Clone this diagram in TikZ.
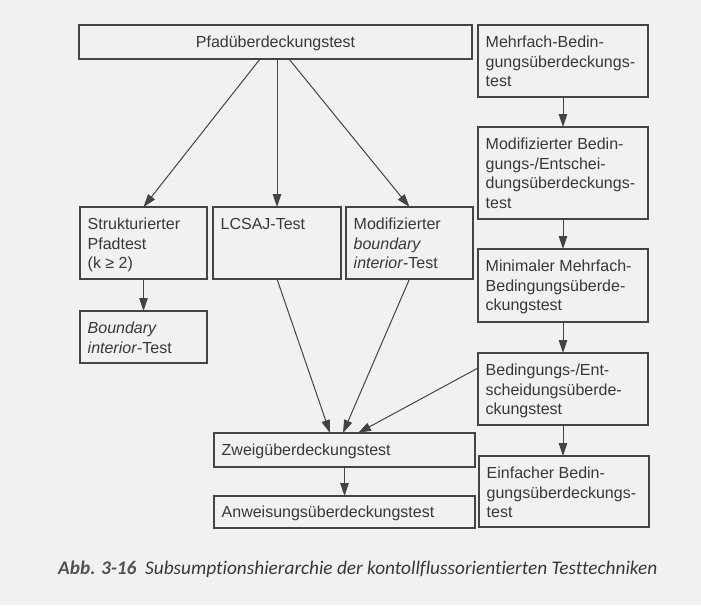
\documentclass[tikz,border=0pt]{standalone}
\usepackage{fontspec}
\setmainfont{Liberation Sans}
\newfontfamily\capfont[Ligatures=NoCommon]{Carlito}
\usetikzlibrary{arrows.meta}
\definecolor{paper}{HTML}{F1F1F2}
\definecolor{ink}{HTML}{38383A}
\definecolor{frame}{HTML}{444446}
\definecolor{capgray}{HTML}{505052}
\begin{document}
\begin{tikzpicture}[x=1pt,y=-1pt,
  box/.style={draw=frame, line width=1.1pt, rectangle, inner sep=0pt, outer sep=0pt, anchor=north west},
  boxtext/.style={anchor=north west, inner sep=0pt, align=left, text=ink, font=\fontsize{16}{19.5}\selectfont},
  oneline/.style={anchor=base west, inner sep=0pt, text=ink, font=\fontsize{16}{19.5}\selectfont},
  link/.style={draw=frame, line width=1pt, -{Triangle[length=13pt,width=8.5pt]}},
]
\fill[paper] (0,0) rectangle (701,605);
\useasboundingbox (0,0) rectangle (701,605);

% --- boxes -------------------------------------------------------------
\node[box, minimum width=393, minimum height=34] (pf) at (79,25) {};
\node[box, minimum width=170, minimum height=72] (mf) at (478,25) {};
\node[box, minimum width=170, minimum height=92] (mbe) at (478,127) {};
\node[box, minimum width=170, minimum height=73] (mm) at (478,249) {};
\node[box, minimum width=170, minimum height=72] (be) at (478,353) {};
\node[box, minimum width=170, minimum height=71] (ei) at (479,456) {};
\node[box, minimum width=127, minimum height=72] (st) at (80,207) {};
\node[box, minimum width=128, minimum height=72] (lc) at (213,207) {};
\node[box, minimum width=127, minimum height=72] (mb) at (346,207) {};
\node[box, minimum width=127, minimum height=52] (bi) at (80,311) {};
\node[box, minimum width=261, minimum height=34] (zw) at (214,433) {};
\node[box, minimum width=261, minimum height=32] (aw) at (214,496) {};

% --- box texts ---------------------------------------------------------
\node[oneline, anchor=base] (pf-t) at ([yshift=-5.5pt]pf.center) {Pfadüberdeckungstest};
\node[oneline] (zw-t) at ([shift={(7.5,0)}, yshift=-5.5pt]zw.west) {Zweigüberdeckungstest};
\node[oneline] (aw-t) at ([shift={(7.5,0)}, yshift=-5.5pt]aw.west) {Anweisungsüberdeckungstest};

\node[boxtext] (mf-t) at ([shift={(7.5,10.8)}]mf.north west)
  {Mehrfach-Bedin-\\gungsüberdeckungs-\\test};
\node[boxtext] (mbe-t) at ([shift={(7.5,10.8)}]mbe.north west)
  {Modifizierter Bedin-\\gungs-/Entschei-\\dungsüberdeckungs-\\test};
\node[boxtext] (mm-t) at ([shift={(7.5,10.8)}]mm.north west)
  {Minimaler Mehrfach-\\Bedingungsüberde-\\ckungstest};
\node[boxtext] (be-t) at ([shift={(7.5,10.8)}]be.north west)
  {Bedingungs-/Ent-\\scheidungsüberde-\\ckungstest};
\node[boxtext] (ei-t) at ([shift={(7.5,10.8)}]ei.north west)
  {Einfacher Bedin-\\gungsüberdeckungs-\\test};
\node[boxtext] (st-t) at ([shift={(7.5,10.8)}]st.north west)
  {Strukturierter\\Pfadtest\\(k ≥ 2)};
\node[boxtext] (lc-t) at ([shift={(7.5,10.8)}]lc.north west)
  {LCSAJ-Test};
\node[boxtext] (mb-t) at ([shift={(7.5,10.8)}]mb.north west)
  {Modifizierter\\\textit{boundary}\\\textit{interior}-Test};
\node[boxtext] (bi-t) at ([shift={(7.5,10.8)}]bi.north west)
  {\textit{Boundary}\\\textit{interior}-Test};

% --- connectors --------------------------------------------------------
\draw[link] ([xshift=-15.5pt]pf.south) -- (st.north);
\draw[link] (pf.south -| lc.north) -- (lc.north);
\draw[link] ([xshift=13.5pt]pf.south) -- (mb.north);
\draw[link] (st.south) -- (bi.north);
\draw[link] (lc.south) -- ([xshift=-14.5pt]zw.north);
\draw[link] (mb.south) -- ([xshift=-1.5pt]zw.north);
\draw[link] ([yshift=21pt]be.west) -- ([xshift=13.5pt]zw.north);
\draw[link] (zw.south -| aw.north) -- (aw.north);
\draw[link] (mf.south) -- (mbe.north);
\draw[link] (mbe.south) -- (mm.north);
\draw[link] (mm.south) -- (be.north);
\draw[link] (be.south) -- (ei.north -| be.south);

% --- caption -----------------------------------------------------------
\node[anchor=base west, inner sep=0pt, font=\capfont\fontsize{19.3}{23}\selectfont\itshape] (cap) at (58,574)
  {\textcolor{capgray}{\bfseries Abb. 3-16}\hspace{0.45em}\textcolor{ink}{Subsumptionshierarchie der kontollflussorientierten Testtechniken}};
\end{tikzpicture}
\end{document}
